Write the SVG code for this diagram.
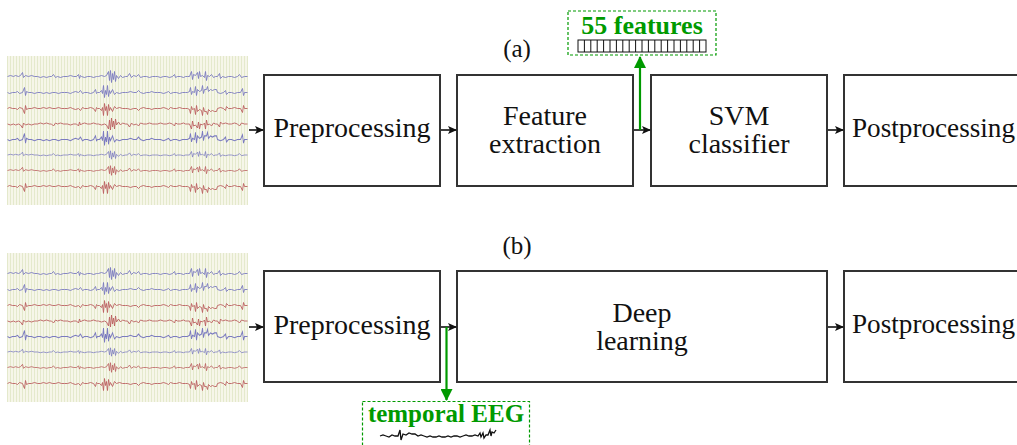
<svg xmlns="http://www.w3.org/2000/svg" xmlns:xlink="http://www.w3.org/1999/xlink" width="1017" height="445" viewBox="0 0 1017 445">
<style>
.box{fill:#fff;stroke:#333;stroke-width:2}
.lbl{font-family:"Liberation Serif","Times New Roman",serif;font-size:28px;fill:#111;text-anchor:middle}
.cap{font-family:"Liberation Serif","Times New Roman",serif;font-size:25px;fill:#111;text-anchor:middle}
.gtxt{font-family:"Liberation Serif","Times New Roman",serif;font-weight:bold;fill:#009a00;text-anchor:middle}
.conn{stroke:#111;stroke-width:1.6;fill:none}
.gconn{stroke:#009a00;stroke-width:2.2;fill:none}
.gbox{fill:#fff;stroke:#009a00;stroke-width:1.2;stroke-dasharray:3,2}
.blue{stroke:#7b7bc0;stroke-width:0.9;fill:none}
.red{stroke:#bb6060;stroke-width:0.9;fill:none}
</style>
<defs>
<marker id="ah" markerWidth="9" markerHeight="8" refX="8" refY="4" orient="auto" markerUnits="userSpaceOnUse">
<path d="M0,0 L9,4 L0,8 L2,4 Z" fill="#111"/>
</marker>
<marker id="gah" markerWidth="12" markerHeight="12" refX="11" refY="6" orient="auto" markerUnits="userSpaceOnUse">
<path d="M0,0 L12,6 L0,12 Z" fill="#009a00"/>
</marker>
<pattern id="stripes" width="3" height="10" patternUnits="userSpaceOnUse">
<rect width="3" height="10" fill="#f6f6e9"/>
<rect width="1" height="10" fill="#e4e9cc"/>
</pattern>
<path id="t1" d="M0,0 l3,-1 l3,1 l2,-1 l3,1 l2,-1 l2,-3 l1,5 l2,-2 l3,1 l3,-1 l3,1 l3,0 l3,1 l3,-1 l3,1 l3,-1 l2,0 l2,-2 l2,3 l2,-1 l3,1 l3,-1 l4,0 l3,-1 l3,1 l3,0 l2,-2 l1,4 l1,-3 l1,1 l3,1 l3,-1 l3,0 l3,1 l3,-1 l1,0 l1,0 l3,-1 l3,1 l2,-1 l2,-4 l1,9 l1,-10 l1,12 l1,-9 l1,6 l1,-8 l1,10 l1,-6 l2,3 l2,-3 l2,2 l3,-1 l2,0 l2,-3 l2,4 l2,-2 l3,1 l2,-2 l2,3 l3,-1 l3,0 l3,1 l3,-1 l3,0 l2,0 l3,1 l3,-1 l3,0 l3,1 l3,-1 l2,-2 l1,3 l2,-1 l3,0 l3,1 l2,-1 l2,0 l2,0 l2,-5 l1,8 l1,-5 l2,1 l2,-3 l1,6 l1,-7 l1,5 l2,-1 l2,2 l1,-6 l1,9 l1,-5 l2,1 l2,-2 l2,3 l2,-1 l2,0 l2,-3 l1,5 l2,-2 l3,1 l3,-1 l3,0 l3,1 l3,-1 l2,-2 l2,3 l3,-1 l3,0"/>
<path id="t2" d="M0,0 l2,1 l3,-1 l3,0 l2,-1 l2,2 l3,-1 l2,-5 l1,8 l1,-4 l2,1 l3,0 l3,1 l3,-1 l3,0 l3,1 l3,-1 l3,1 l3,-1 l3,0 l3,1 l3,-1 l3,0 l3,0 l3,1 l2,-1 l3,-1 l3,1 l2,-2 l2,3 l2,-1 l3,0 l3,1 l3,-1 l2,-3 l1,4 l1,-1 l2,0 l2,-2 l1,3 l1,-8 l1,12 l1,-7 l1,4 l1,-9 l1,11 l1,-6 l1,3 l2,-4 l2,5 l2,-2 l3,1 l3,-1 l3,0 l2,0 l3,-1 l3,1 l3,0 l2,-2 l2,2 l3,1 l3,-1 l3,0 l2,-1 l3,1 l3,0 l3,0 l3,1 l3,-1 l2,-1 l2,2 l3,-1 l3,0 l3,1 l3,-1 l3,0 l2,0 l2,-1 l1,-4 l1,7 l1,-3 l2,1 l1,-6 l1,9 l1,-6 l2,2 l2,-1 l1,-5 l1,8 l1,-4 l2,0 l1,-3 l1,5 l2,-2 l2,1 l2,-1 l2,0 l1,3 l3,1 l3,-1 l2,-2 l1,4 l2,-2 l3,0 l3,1 l3,-1 l3,0 l2,-4 l1,7 l1,-3 l3,0"/>
<g id="eeg">
<rect x="0" y="0" width="241" height="149" fill="url(#stripes)"/>
<use xlink:href="#t1" href="#t1" class="blue" transform="translate(0.5,20.5)"/>
<use xlink:href="#t2" href="#t2" class="blue" transform="translate(0.5,36.5)"/>
<use xlink:href="#t2" href="#t2" class="red" transform="translate(0.5,52.5) scale(1,-1)"/>
<use xlink:href="#t1" href="#t1" class="red" transform="translate(0.5,68) scale(1,-1)"/>
<use xlink:href="#t2" href="#t2" class="blue" transform="translate(0.5,83.5) scale(1,1.2)"/>
<use xlink:href="#t1" href="#t1" class="blue" transform="translate(0.5,99) scale(1,0.7)"/>
<use xlink:href="#t1" href="#t1" class="red" transform="translate(0.5,114.5) scale(1,0.8)"/>
<use xlink:href="#t2" href="#t2" class="red" transform="translate(0.5,130.5) scale(1,-1)"/>
</g>
</defs>

<rect width="1017" height="445" fill="#fff"/>

<g id="eeg-a"><use xlink:href="#eeg" href="#eeg" transform="translate(7,56)"/></g>
<g id="eeg-b"><use xlink:href="#eeg" href="#eeg" transform="translate(7,253)"/></g>

<g id="label-a"><text class="cap" x="517" y="57">(a)</text></g>
<g id="label-b"><text class="cap" x="517" y="254">(b)</text></g>

<g id="pre-a"><rect class="box" x="264" y="75" width="176" height="111"/><text class="lbl" x="352" y="137">Preprocessing</text></g>
<g id="feat-a"><rect class="box" x="457" y="75" width="176" height="111"/><text class="lbl" x="545" y="125">Feature</text><text class="lbl" x="545" y="153">extraction</text></g>
<g id="svm-a"><rect class="box" x="651" y="75" width="176" height="111"/><text class="lbl" x="739" y="125">SVM</text><text class="lbl" x="739" y="153">classifier</text></g>
<g id="post-a"><rect class="box" x="844" y="75" width="200" height="111"/><text class="lbl" x="852" y="137" style="text-anchor:start" textLength="163" lengthAdjust="spacingAndGlyphs">Postprocessing</text></g>

<g id="pre-b"><rect class="box" x="264" y="271" width="176" height="111"/><text class="lbl" x="352" y="334">Preprocessing</text></g>
<g id="deep-b"><rect class="box" x="457" y="271" width="370" height="111"/><text class="lbl" x="642" y="322">Deep</text><text class="lbl" x="642" y="350">learning</text></g>
<g id="post-b"><rect class="box" x="844" y="271" width="200" height="111"/><text class="lbl" x="852" y="333" style="text-anchor:start" textLength="163" lengthAdjust="spacingAndGlyphs">Postprocessing</text></g>

<g id="features-box">
<rect class="gbox" x="568" y="11" width="148" height="44"/>
<text class="gtxt" x="642" y="34" style="font-size:26px">55 features</text>
<rect x="578" y="40" width="128" height="12" fill="#fff" stroke="#111" stroke-width="1"/>
<path d="M584.4,40v12M590.8,40v12M597.2,40v12M603.6,40v12M610,40v12M616.4,40v12M622.8,40v12M629.2,40v12M635.6,40v12M642,40v12M648.4,40v12M654.8,40v12M661.2,40v12M667.6,40v12M674,40v12M680.4,40v12M686.8,40v12M693.2,40v12M699.6,40v12" stroke="#111" stroke-width="1"/>
</g>

<g id="temporal-box">
<rect class="gbox" x="362.5" y="401.5" width="167" height="60"/>
<text class="gtxt" x="446" y="422" style="font-size:25px">temporal EEG</text>
<path d="M380,436 l3,-1 l3,1 l3,1 l3,-2 l3,1 l3,0 l2,-6 l1,10 l2,-6 l3,1 l3,-2 l3,1 l3,0 l3,2 l3,-1 l3,1 l3,1 l3,-1 l3,1 l3,0 l3,-1 l3,1 l3,0 l3,-1 l3,1 l3,-1 l3,0 l3,1 l3,-1 l3,-1 l3,1 l3,0 l3,-1 l3,1 l2,-3 l1,4 l2,-4 l1,5 l2,-3 l2,0 l2,-5 l1,6 l1,-4 l2,1 l2,-3" fill="none" stroke="#111" stroke-width="1.3"/>
</g>

<g id="connectors">
<line class="conn" x1="249" y1="130" x2="263" y2="130" marker-end="url(#ah)"/>
<line class="conn" x1="441" y1="130" x2="456" y2="130" marker-end="url(#ah)"/>
<line class="conn" x1="634" y1="130" x2="650" y2="130" marker-end="url(#ah)"/>
<line class="conn" x1="828" y1="130" x2="843" y2="130" marker-end="url(#ah)"/>
<line class="conn" x1="249" y1="327" x2="263" y2="327" marker-end="url(#ah)"/>
<line class="conn" x1="441" y1="327" x2="456" y2="327" marker-end="url(#ah)"/>
<line class="conn" x1="828" y1="327" x2="843" y2="327" marker-end="url(#ah)"/>
<line class="gconn" x1="640" y1="130" x2="640" y2="57" marker-end="url(#gah)"/>
<line class="gconn" x1="446.5" y1="327" x2="446.5" y2="400" marker-end="url(#gah)"/>
</g>
</svg>
